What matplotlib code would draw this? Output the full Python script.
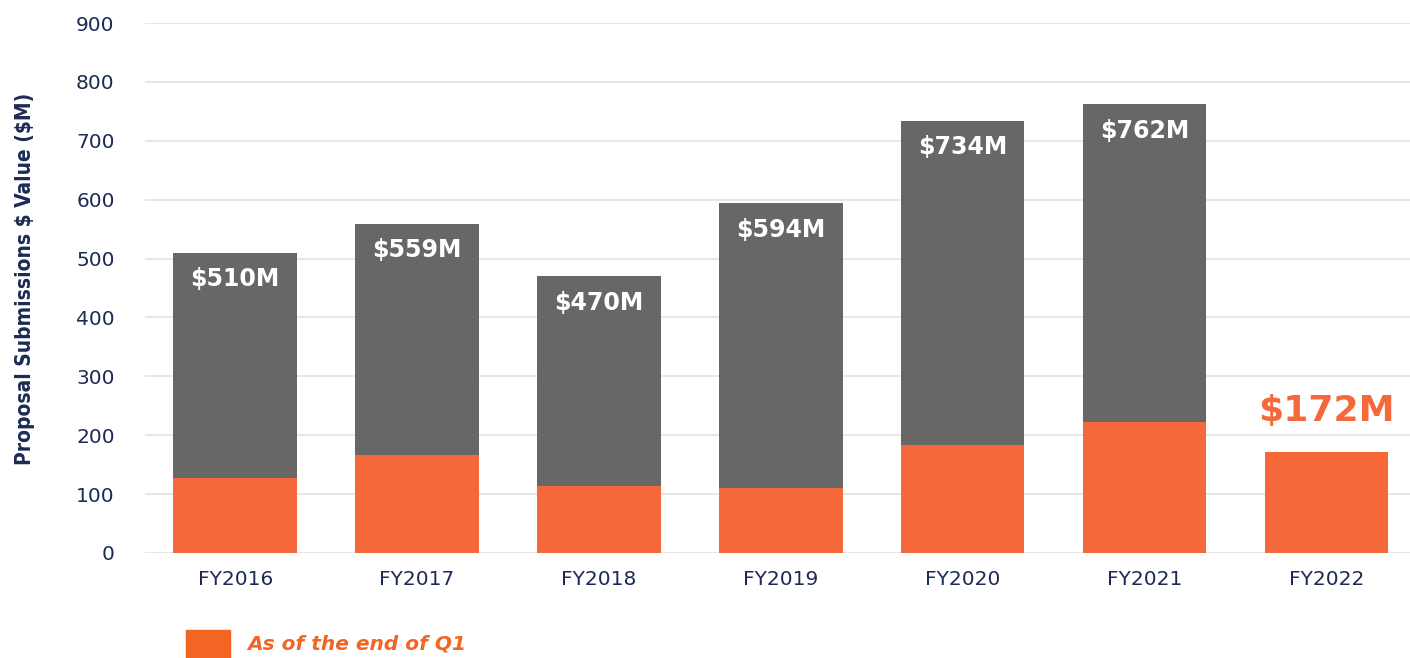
import numpy as np
from matplotlib import pyplot as plt
from matplotlib.patches import Rectangle

# Data
years = ["FY2016", "FY2017", "FY2018", "FY2019", "FY2020", "FY2021", "FY2022"]
totals = [510, 559, 470, 594, 734, 762, 172]
q1 = [127, 166, 114, 110, 183, 222, 172]
total_labels = ["$510M", "$559M", "$470M", "$594M", "$734M", "$762M", "$172M"]

orange = "#F4683A"
gray = "#676767"
navy = "#1C2B55"

fig = plt.figure(figsize=(14.1, 6.58), dpi=100)
ax = fig.add_axes([0.103, 0.1596, 0.897, 0.8054])

x = np.arange(len(years))
rest = [t - q for t, q in zip(totals, q1)]
ax.bar(x, q1, width=0.68, color=orange, zorder=2)
ax.bar(x, rest, width=0.68, bottom=q1, color=gray, zorder=2)

for i, (t, lab) in enumerate(zip(totals, total_labels)):
    if i < len(years) - 1:
        ax.annotate(lab, (x[i], t), xytext=(0, -19), textcoords="offset points",
                    ha="center", va="center", color="white",
                    fontsize=17, fontweight="heavy")
    else:
        ax.annotate(lab, (x[i], t), xytext=(0, 29), textcoords="offset points",
                    ha="center", va="center", color=orange,
                    fontsize=26, fontweight="heavy")

ax.set_ylim(0, 900)
ax.set_xlim(-0.495, 6.46)
ax.set_yticks(range(0, 901, 100))
ax.set_xticks(x)
ax.set_xticklabels(years)
ax.tick_params(axis="both", length=0, labelsize=14.5, labelcolor=navy)
ax.tick_params(axis="x", pad=12)
ax.tick_params(axis="y", pad=22)
ax.grid(axis="y", color="#e3e3e3", linewidth=1.2, zorder=0)
for s in ax.spines.values():
    s.set_visible(False)

ax.set_ylabel(r"Proposal Submissions \$ Value (\$M)", fontsize=15, fontweight="bold",
              color=navy, family=["Liberation Sans Narrow", "DejaVu Sans"],
              fontstretch="condensed")
ax.yaxis.set_label_coords(-0.087, 0.517)

# legend
fig.patches.append(Rectangle((186 / 1410, 0), 44 / 1410, 28 / 658,
                             transform=fig.transFigure, color="#F26522"))
fig.text(247 / 1410, 14 / 658, "As of the end of Q1", color="#F26522",
         fontsize=14.5, fontweight="bold", fontstyle="italic", va="center")

fig.savefig("out.png", dpi=100)
